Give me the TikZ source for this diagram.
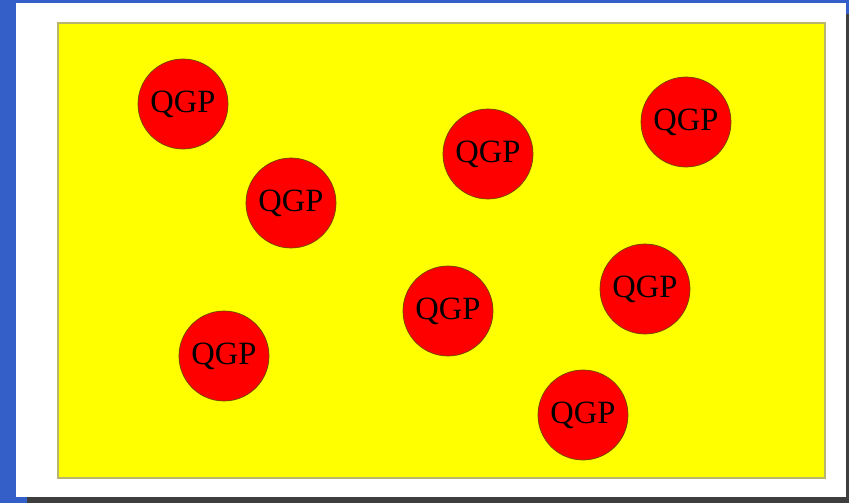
\documentclass[tikz,border=0pt]{standalone}
\usepackage{fontspec}
\setmainfont{Liberation Serif}
\usepackage{tikz}
\usetikzlibrary{positioning}

\definecolor{frameblue}{RGB}{52,94,200}
\definecolor{frameshadow}{RGB}{62,62,62}
\definecolor{boxedge}{RGB}{185,180,110}
\definecolor{boxfill}{RGB}{255,255,0}
\definecolor{dropfill}{RGB}{255,0,0}
\definecolor{dropedge}{RGB}{110,70,0}

\begin{document}
\begin{tikzpicture}[
  x=0.02cm, y=-0.02cm,
  drop/.style={circle, draw=dropedge, fill=dropfill, line width=0.4pt,
               minimum size=1.8cm, inner sep=0pt,
               font=\fontsize{18.5}{20}\selectfont},
  medium/.style={draw=boxedge, fill=boxfill, line width=0.6pt}
]

%--------------------------------------------------------------
% Cornice
%--------------------------------------------------------------
\fill[frameblue] (0,0) rectangle (849,503);
\fill[frameshadow] (27,14) rectangle (849,503);
\fill[white] (16,3) rectangle (846,497);
\useasboundingbox (0,0) rectangle (849,503);

%--------------------------------------------------------------
% Mezzo adronico
%--------------------------------------------------------------
\draw[medium] (58,23) rectangle (825,478);

%--------------------------------------------------------------
% Gocce di plasma
%--------------------------------------------------------------
\node[drop] (qgpa) at (183,104) {QGP};
\node[drop] (qgpb) at (291,203) {QGP};
\node[drop] (qgpc) at (488,154) {QGP};
\node[drop] (qgpd) at (686,122) {QGP};
\node[drop] (qgpe) at (645,289) {QGP};
\node[drop] (qgpf) at (448,311) {QGP};
\node[drop] (qgpg) at (224,356) {QGP};
\node[drop] (qgph) at (583,415) {QGP};

\end{tikzpicture}
\end{document}
